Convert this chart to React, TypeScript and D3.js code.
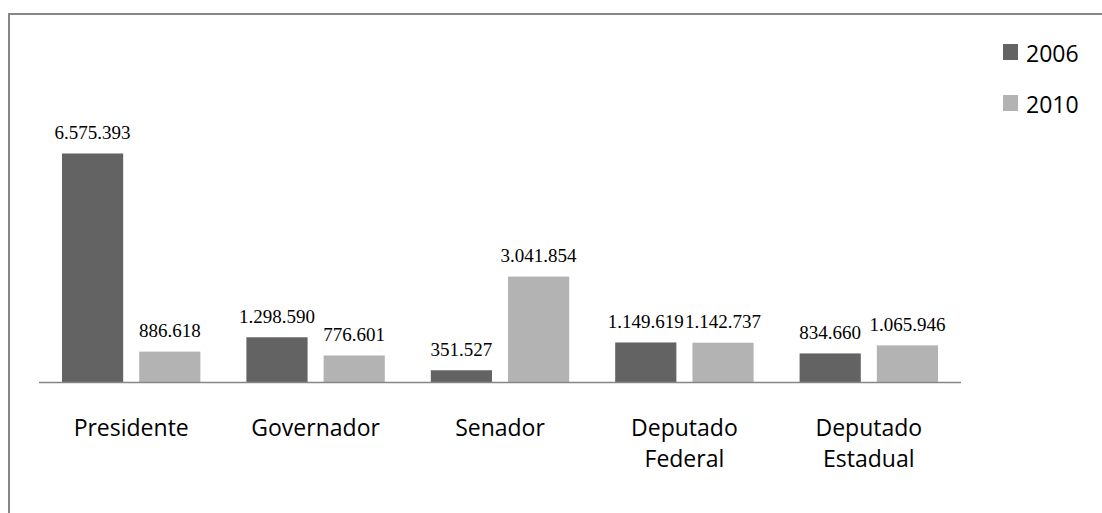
import React from "react";
import * as d3 from "d3";

const categories: string[][] = [
  ["Presidente"],
  ["Governador"],
  ["Senador"],
  ["Deputado", "Federal"],
  ["Deputado", "Estadual"],
];
const seriesNames = ["2006", "2010"];
const values2006 = [6575393, 1298590, 351527, 1149619, 834660];
const values2010 = [886618, 776601, 3041854, 1142737, 1065946];
const colors = ["#636363", "#b3b3b3"];

const fmt = (v: number) => d3.format(",")(v).replace(/,/g, ".");

export default function App() {
  const W = 1102, H = 513;
  const baseY = 382.5;
  const keys = categories.map((c) => c.join(" "));
  const x0 = d3.scaleBand<string>().domain(keys).range([39, 961]).padding(0);
  const x1 = d3
    .scaleBand<string>()
    .domain(seriesNames)
    .range([23, x0.bandwidth() - 23])
    .paddingInner(16 / 77)
    .paddingOuter(0);
  const y = d3.scaleLinear().domain([0, 7000000]).range([baseY, baseY - 7000000 * (229 / 6575393)]);
  const data = [values2006, values2010];

  return (
    <svg width={W} height={H} style={{ position: "absolute", left: 0, top: 0, background: "#fff" }}>
      <rect x={0} y={0} width={W} height={H} fill="#fff" />
      <path d={`M9,${H + 5} V14 H${W + 5}`} fill="none" stroke="#878787" strokeWidth={2} />
      {keys.map((k, i) => (
        <g key={k} transform={`translate(${x0(k)},0)`}>
          {seriesNames.map((s, j) => {
            const v = data[j][i];
            const bx = x1(s)!;
            const bw = x1.bandwidth();
            return (
              <g key={s}>
                <rect x={bx} y={y(v)} width={bw} height={baseY - y(v)} fill={colors[j]} />
                <text
                  x={bx + bw / 2}
                  y={y(v) - 14.5}
                  textAnchor="middle"
                  fontFamily="'Liberation Serif', 'Times New Roman', serif"
                  fontSize={19}
                  fill="#000"
                >
                  {fmt(v)}
                </text>
              </g>
            );
          })}
          <text
            x={x0.bandwidth() / 2}
            y={436}
            textAnchor="middle"
            fontFamily="'Open Sans', sans-serif"
            fontSize={23}
            fill="#000"
          >
            {categories[i].map((line, li) => (
              <tspan key={li} x={x0.bandwidth() / 2} dy={li === 0 ? 0 : 31}>
                {line}
              </tspan>
            ))}
          </text>
        </g>
      ))}
      <line x1={39} x2={961} y1={baseY} y2={baseY} stroke="#868686" strokeWidth={1.5} />
      {seriesNames.map((s, j) => (
        <g key={s} transform={`translate(1003,${44 + j * 51})`}>
          <rect x={0} y={0} width={15} height={16} fill={colors[j]} />
          <text x={23} y={17.5} fontFamily="'Open Sans', sans-serif" fontSize={23} fill="#000">
            {s}
          </text>
        </g>
      ))}
    </svg>
  );
}
